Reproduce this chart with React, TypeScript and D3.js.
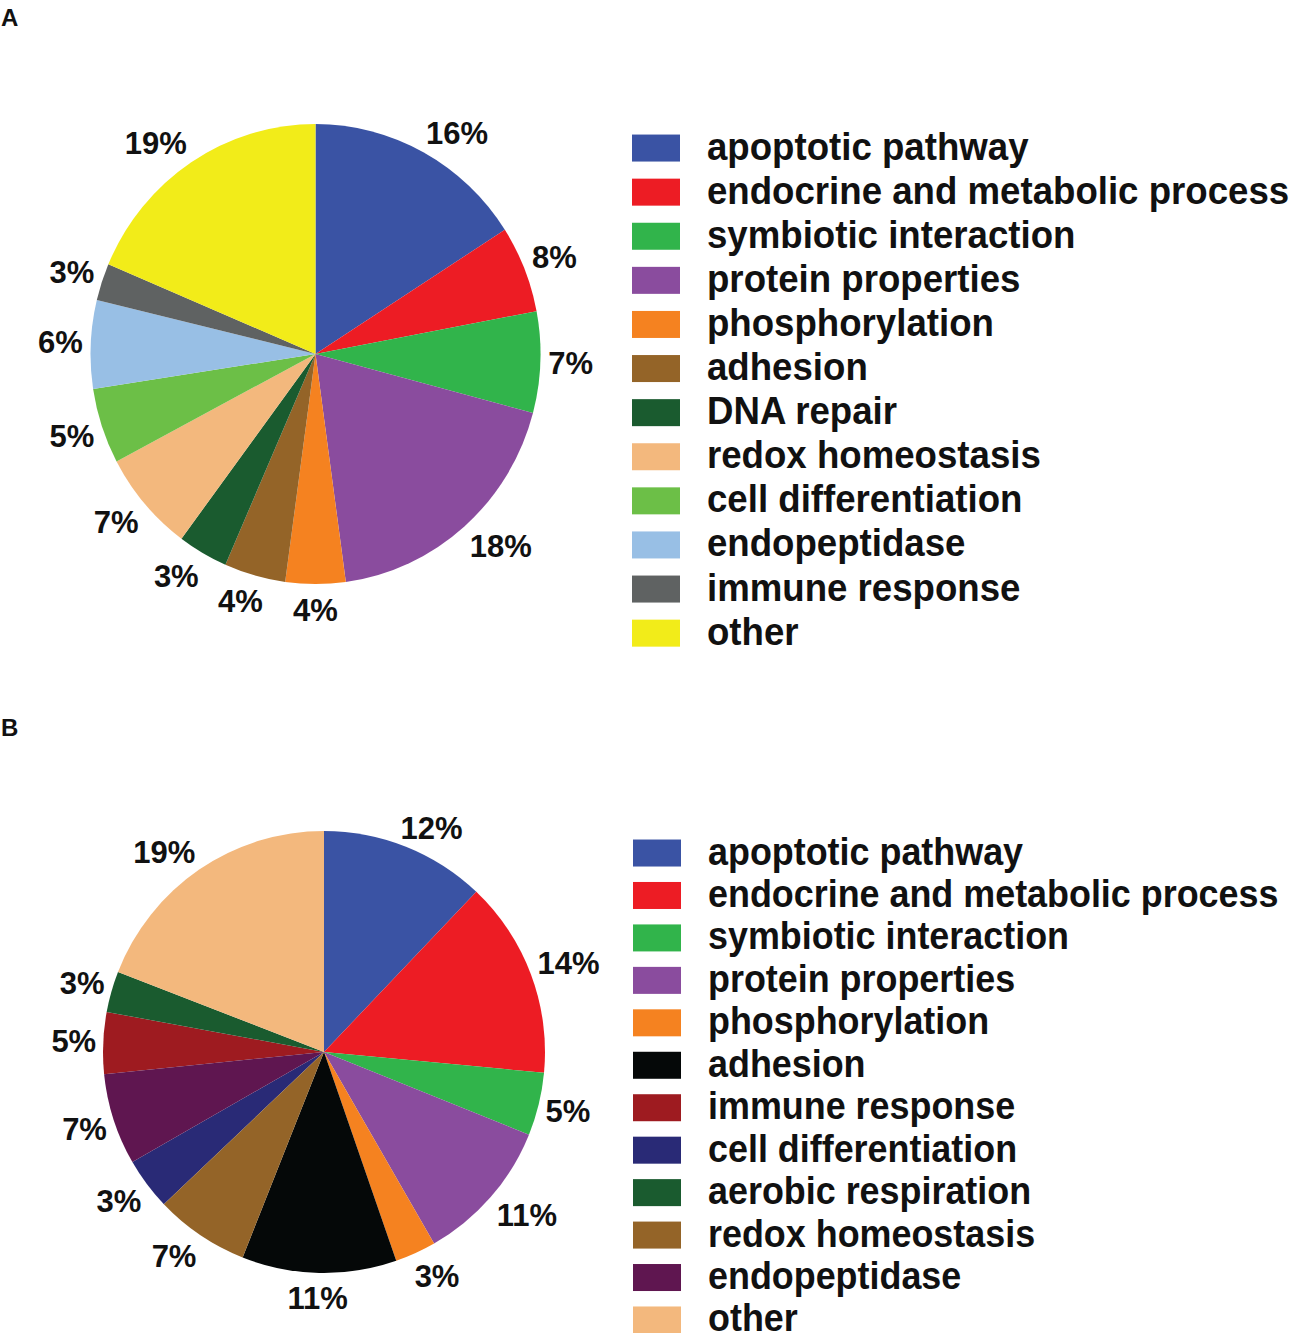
import React from "react";
import * as d3 from "d3";

// ---------- Panel A data ----------
const catsA = [
  "apoptotic pathway",
  "endocrine and metabolic process",
  "symbiotic interaction",
  "protein properties",
  "phosphorylation",
  "adhesion",
  "DNA repair",
  "redox homeostasis",
  "cell differentiation",
  "endopeptidase",
  "immune response",
  "other",
];
const valuesA = [15.9, 6.1, 7.1, 18.7, 4.3, 4.4, 3.6, 7.1, 5.3, 6.2, 2.6, 18.6];
const labelsA = ["16%", "8%", "7%", "18%", "4%", "4%", "3%", "7%", "5%", "6%", "3%", "19%"];
const colorsA = [
  "#3A53A4",
  "#ED1C24",
  "#31B44B",
  "#8A4C9E",
  "#F58220",
  "#946428",
  "#1A5B2F",
  "#F3B87D",
  "#6CBF47",
  "#98BFE5",
  "#5F6262",
  "#F2EC19",
];
const pieOrderA = catsA;

// ---------- Panel B data ----------
const catsB = [
  "apoptotic pathway",
  "endocrine and metabolic process",
  "symbiotic interaction",
  "protein properties",
  "phosphorylation",
  "adhesion",
  "immune response",
  "cell differentiation",
  "aerobic respiration",
  "redox homeostasis",
  "endopeptidase",
  "other",
];
const valuesB = [12.1, 14.4, 4.6, 10.6, 3.0, 11.3, 4.5, 3.8, 3.0, 6.9, 6.7, 19.1];
const labelsB = ["12%", "14%", "5%", "11%", "3%", "11%", "5%", "3%", "3%", "7%", "7%", "19%"];
const colorsB = [
  "#3A53A4",
  "#ED1C24",
  "#31B44B",
  "#8A4C9E",
  "#F58220",
  "#050808",
  "#9E1B20",
  "#292A76",
  "#1A5B2F",
  "#946428",
  "#5F1650",
  "#F3B87D",
];
const pieOrderB = [
  "apoptotic pathway",
  "endocrine and metabolic process",
  "symbiotic interaction",
  "protein properties",
  "phosphorylation",
  "adhesion",
  "redox homeostasis",
  "cell differentiation",
  "endopeptidase",
  "immune response",
  "aerobic respiration",
  "other",
];

const FONT = "'Liberation Sans', Arial, Helvetica, sans-serif";
const LABEL_FS = 31;

type Datum = { cat: string; value: number; label: string; color: string };

// approximate width of a percentage label (Arial bold metrics)
function labelWidth(s: string, fs: number) {
  let w = 0;
  for (const ch of s) w += ch === "%" ? 0.889 : 0.556;
  return w * fs;
}

const clamp = (v: number) => Math.max(-1, Math.min(1, v));

function Panel(props: {
  letter: string;
  letterY: number;
  cats: string[];
  values: number[];
  labels: string[];
  colors: string[];
  order: string[];
  cx: number;
  cy: number;
  rx: number;
  ry: number;
  gap: number;
  legendX: number;
  legendY0: number;
  legendStep: number;
  legendFont: number;
}) {
  const {
    letter, letterY, cats, values, labels, colors, order,
    cx, cy, rx, ry, gap, legendX, legendY0, legendStep, legendFont,
  } = props;
  const data: Datum[] = cats.map((c, i) => ({
    cat: c,
    value: values[i],
    label: labels[i],
    color: colors[i],
  }));
  const pie = d3
    .pie<Datum>()
    .value((d) => d.value)
    .sort((a, b) => order.indexOf(a.cat) - order.indexOf(b.cat));
  const arcs = pie(data);
  const arc = d3.arc<d3.PieArcDatum<Datum>>().innerRadius(0).outerRadius(rx);
  const sy = ry / rx;
  const legendScale = d3
    .scaleBand<string>()
    .domain(cats)
    .range([legendY0, legendY0 + legendStep * cats.length]);
  const swW = 48;
  const swH = 27;
  const hLab = LABEL_FS * 0.75;
  return (
    <g>
      <text
        x={1}
        y={letterY}
        fontFamily={FONT}
        fontWeight="bold"
        fontSize={24}
        fill="#111"
      >
        {letter}
      </text>
      <g transform={`translate(${cx},${cy}) scale(1,${sy})`}>
        {arcs.map((a, i) => (
          <path key={i} d={arc(a) || ""} fill={a.data.color} />
        ))}
      </g>
      {arcs.map((a, i) => {
        const mid = (a.startAngle + a.endAngle) / 2;
        const s = Math.sin(mid);
        const c = Math.cos(mid);
        const w = labelWidth(a.data.label, LABEL_FS);
        const px = cx + (rx + gap) * s;
        const py = cy - (ry + gap) * c;
        const x = px + (w / 2) * clamp(s * 2);
        const y =
          py - (hLab / 2) * clamp(c * 2) + 7 * Math.pow(Math.max(0, -c), 3);
        return (
          <text
            key={"l" + i}
            x={x}
            y={y}
            textAnchor="middle"
            dominantBaseline="central"
            fontFamily={FONT}
            fontWeight="bold"
            fontSize={LABEL_FS}
            fill="#111"
          >
            {a.data.label}
          </text>
        );
      })}
      {data.map((d, i) => {
        const yc = (legendScale(d.cat) as number) + legendScale.bandwidth() / 2;
        return (
          <g key={"g" + i}>
            <rect x={legendX} y={yc - swH / 2} width={swW} height={swH} fill={d.color} />
            <text
              transform={`translate(${legendX + 75},${yc + 11.5}) scale(0.93,1)`}
              fontFamily={FONT}
              fontWeight="bold"
              fontSize={legendFont}
              fill="#111"
            >
              {d.cat}
            </text>
          </g>
        );
      })}
    </g>
  );
}

export default function App() {
  return (
    <svg
      width={1289}
      height={1333}
      style={{ position: "absolute", left: 0, top: 0, background: "#fff" }}
    >
      <rect x={0} y={0} width={1289} height={1333} fill="#fff" />
      <Panel
        letter="A"
        letterY={26}
        cats={catsA}
        values={valuesA}
        labels={labelsA}
        colors={colorsA}
        order={pieOrderA}
        cx={315.5}
        cy={354}
        rx={225}
        ry={230}
        gap={8}
        legendX={632}
        legendY0={148 - 22}
        legendStep={44.1}
        legendFont={39.4}
      />
      <Panel
        letter="B"
        letterY={736}
        cats={catsB}
        values={valuesB}
        labels={labelsB}
        colors={colorsB}
        order={pieOrderB}
        cx={324}
        cy={1052}
        rx={221}
        ry={221}
        gap={7}
        legendX={633}
        legendY0={853 - 21.2}
        legendStep={42.45}
        legendFont={38.6}
      />
    </svg>
  );
}
